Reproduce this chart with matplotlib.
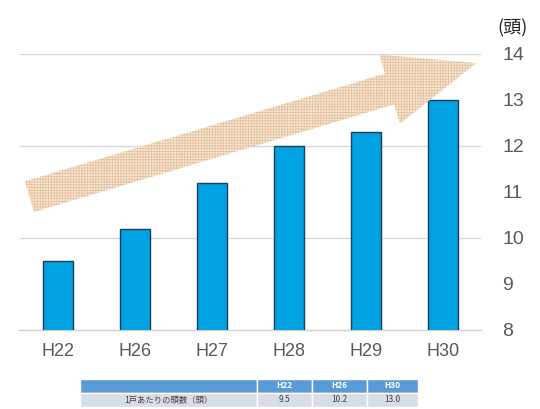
import matplotlib
matplotlib.use("Agg")
import matplotlib.pyplot as plt
from matplotlib.patches import FancyArrowPatch

plt.rcParams['font.family'] = ['Noto Sans CJK JP', 'DejaVu Sans']
plt.rcParams['hatch.linewidth'] = 0.6

categories = ["H22", "H26", "H27", "H28", "H29", "H30"]
values = [9.5, 10.2, 11.2, 12.0, 12.3, 13.0]
yticks = [8, 9, 10, 11, 12, 13, 14]
grid_levels = [10, 12, 14]
unit_label = "(頭)"

table_header = ["", "H22", "H26", "H30"]
table_row = ["1戸あたりの頭数（頭）", "9.5", "10.2", "13.0"]

W, H = 540, 409
fig = plt.figure(figsize=(W / 100, H / 100), dpi=100)
ax = fig.add_axes([19.5 / W, (H - 330) / H, 462 / W, 276 / H])

x = range(len(categories))
ax.bar(x, values, width=0.4, color="#00a2e2", edgecolor="#1e3d5c",
       linewidth=1.0, zorder=3, bottom=0)
ax.set_xlim(-0.5, len(categories) - 0.5)
ax.set_ylim(8, 14)
ax.set_xticks(list(x))
ax.set_xticklabels(categories, fontsize=13, color="#595959",
                   family=['Liberation Sans', 'DejaVu Sans'])
ax.set_yticks(yticks)
ax.set_yticklabels([str(t) for t in yticks], fontsize=14, color="#595959",
                   family=['Liberation Sans', 'DejaVu Sans'])
ax.yaxis.tick_right()
ax.tick_params(axis='both', length=0)
ax.tick_params(axis='y', pad=15)
ax.tick_params(axis='x', pad=9)
for s in ["top", "left", "right"]:
    ax.spines[s].set_visible(False)
ax.spines["bottom"].set_color("#d0d0d0")
ax.spines["bottom"].set_linewidth(1.0)
ax.hlines(grid_levels, -0.5, len(categories) - 0.5, colors="#d9d9d9",
          linewidth=1.0, zorder=1)

# trend arrow (decoration)
arrow = FancyArrowPatch((-0.37, 10.9), (5.43, 13.8),
                        arrowstyle="simple,head_length=6.5,head_width=5.2,tail_width=2.3",
                        mutation_scale=10, facecolor="#f9ead9", edgecolor="#e4c29e",
                        hatch="++++++", linewidth=0, zorder=4, clip_on=False,
                        shrinkA=0, shrinkB=0)
ax.add_patch(arrow)

fig.text(497 / W, (H - 28) / H, unit_label, fontsize=13, color="#222222",
         ha="left", va="center")

# table
tax = fig.add_axes([80 / W, 2 / H, 338 / W, 28 / H])
tax.axis("off")
tbl = tax.table(cellText=[table_row], colLabels=table_header,
                colWidths=[177, 55, 55, 51], loc="center", bbox=[0, 0, 1, 1],
                cellLoc="center")
tbl.auto_set_font_size(False)
for (r, c), cell in tbl.get_celld().items():
    cell.set_edgecolor("white")
    cell.set_linewidth(1.0)
    if r == 0:
        cell.set_facecolor("#5b9bd5")
        cell.get_text().set_color("white")
        cell.get_text().set_fontsize(6)
        cell.get_text().set_fontweight("bold")
    else:
        cell.set_facecolor("#d9dee6")
        cell.get_text().set_color("#404040")
        cell.get_text().set_fontsize(6)

fig.savefig("out.png", dpi=100)
